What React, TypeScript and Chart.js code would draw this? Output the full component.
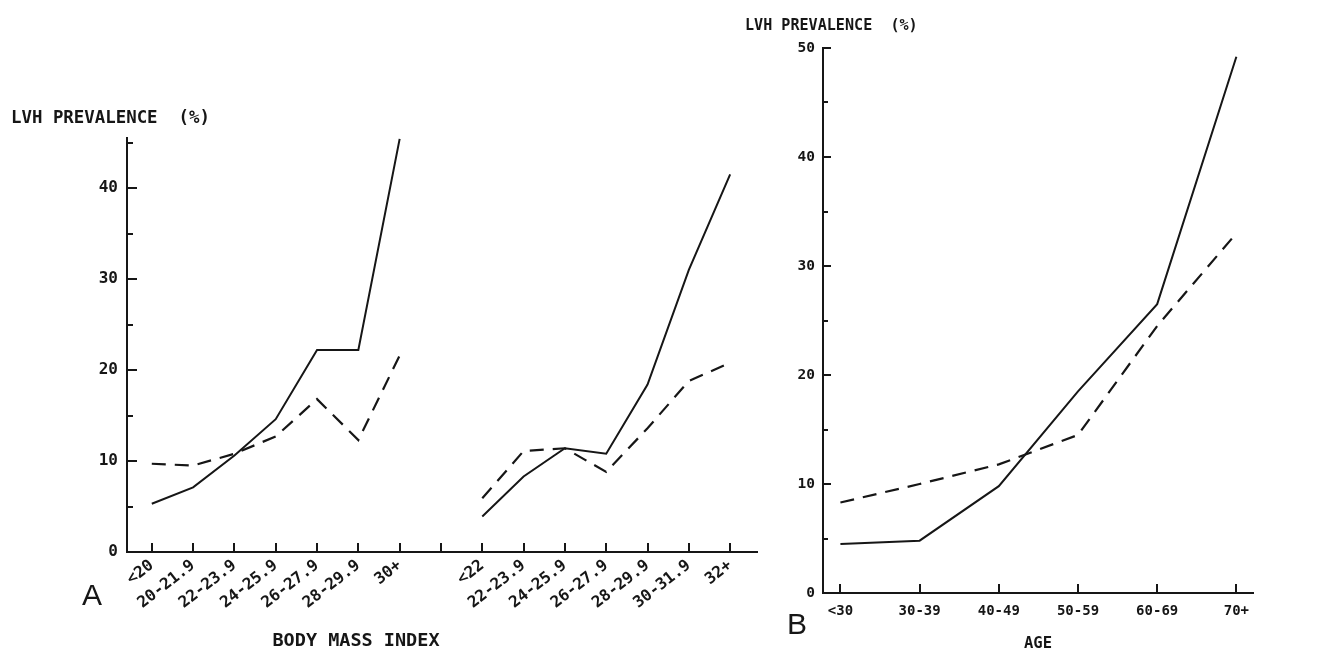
import React, { useEffect, useRef } from 'react';
import { Chart, registerables } from 'chart.js';

Chart.register(...registerables);

const W = 1342;
const H = 653;
const MONO = '"DejaVu Sans Mono", "Liberation Mono", monospace';
const SANS = '"Liberation Sans", Arial, sans-serif';
const INK = '#161616';

// ---- Panel A: body mass index ----
const bmiLabelsLeft = ['<20', '20-21.9', '22-23.9', '24-25.9', '26-27.9', '28-29.9', '30+'];
const bmiLabelsRight = ['<22', '22-23.9', '24-25.9', '26-27.9', '28-29.9', '30-31.9', '32+'];
const bmiSolidLeft = [5.3, 7.1, 10.6, 14.6, 22.2, 22.2, 45.4];
const bmiDashedLeft = [9.7, 9.5, 10.8, 12.7, 16.8, 12.3, 21.6];
const bmiSolidRight = [3.9, 8.3, 11.4, 10.8, 18.4, 31.0, 41.5];
const bmiDashedRight = [5.9, 11.1, 11.4, 8.8, 13.6, 18.8, 20.8];

// ---- Panel B: age ----
const ageLabels = ['<30', '30-39', '40-49', '50-59', '60-69', '70+'];
const ageSolid = [4.5, 4.8, 9.8, 18.5, 26.5, 49.2];
const ageDashed = [8.3, 10.0, 11.8, 14.5, 24.5, 33.0];

const bmiLabels = [...bmiLabelsLeft, '', ...bmiLabelsRight];
const bmiSolid = [...bmiSolidLeft, null, ...bmiSolidRight];
const bmiDashed = [...bmiDashedLeft, null, ...bmiDashedRight];

const toPoints = (vals: (number | null)[]) => vals.map((y, x) => ({ x, y }));

type DecorCfg = {
  id: string;
  nx: number;
  yMajor: number;
  yMinor: number;
  xLen: number;
  title: string;
  titleFont: string;
  titleX: number;
  titleY: number;
  letter: string;
  letterX: number;
  letterY: number;
  xTitle: string;
  xTitleFont: string;
  xTitleX: number;
  xTitleY: number;
};

const decor = (cfg: DecorCfg) => ({
  id: cfg.id,
  afterDraw(chart: any) {
    const ctx = chart.ctx as CanvasRenderingContext2D;
    const xs = chart.scales.x;
    const ys = chart.scales.y;
    const { left, bottom } = chart.chartArea;
    ctx.save();
    ctx.strokeStyle = INK;
    ctx.lineWidth = 2;
    for (let v = 5; v <= ys.max + 1e-9; v += 5) {
      const y = Math.round(ys.getPixelForValue(v));
      const len = v % 10 === 0 ? cfg.yMajor : cfg.yMinor;
      ctx.beginPath();
      ctx.moveTo(left, y);
      ctx.lineTo(left + len, y);
      ctx.stroke();
    }
    for (let i = 0; i < cfg.nx; i++) {
      const x = Math.round(xs.getPixelForValue(i));
      ctx.beginPath();
      ctx.moveTo(x, bottom);
      ctx.lineTo(x, bottom - cfg.xLen);
      ctx.stroke();
    }
    ctx.fillStyle = INK;
    ctx.textBaseline = 'alphabetic';
    ctx.textAlign = 'left';
    ctx.font = cfg.titleFont;
    ctx.fillText(cfg.title, cfg.titleX, cfg.titleY);
    ctx.font = `30px ${SANS}`;
    ctx.fillText(cfg.letter, cfg.letterX, cfg.letterY);
    ctx.textAlign = 'center';
    ctx.font = cfg.xTitleFont;
    ctx.fillText(cfg.xTitle, cfg.xTitleX, cfg.xTitleY);
    ctx.restore();
  },
});

function makeConfig(opts: {
  solid: (number | null)[];
  dashed: (number | null)[];
  labels: string[];
  xMin: number;
  xMax: number;
  yMax: number;
  area: { left: number; right: number; top: number; bottom: number };
  yFont: number;
  xFont: number;
  rotation: number;
  yPad: number;
  xPad: number;
  decorCfg: DecorCfg;
}) {
  const { area } = opts;
  return {
    type: 'line' as const,
    data: {
      datasets: [
        {
          data: toPoints(opts.solid),
          borderColor: INK,
          borderWidth: 2,
          pointRadius: 0,
          tension: 0,
          spanGaps: false,
        },
        {
          data: toPoints(opts.dashed),
          borderColor: INK,
          borderWidth: 2.2,
          borderDash: [14, 9],
          pointRadius: 0,
          tension: 0,
          spanGaps: false,
        },
      ],
    },
    options: {
      responsive: false,
      animation: false as const,
      devicePixelRatio: 1,
      events: [],
      layout: { padding: { left: 0, top: area.top, right: W - area.right, bottom: 0 } },
      plugins: { legend: { display: false }, tooltip: { enabled: false }, title: { display: false } },
      scales: {
        x: {
          type: 'linear' as const,
          min: opts.xMin,
          max: opts.xMax,
          afterFit: (s: any) => {
            s.height = H - area.bottom;
          },
          grid: { display: false, drawTicks: false },
          border: { display: true, color: INK, width: 2 },
          ticks: {
            stepSize: 1,
            autoSkip: false,
            includeBounds: false,
            minRotation: opts.rotation,
            maxRotation: opts.rotation,
            padding: opts.xPad,
            color: INK,
            font: { family: MONO, size: opts.xFont, weight: 'bold' as const },
            callback: (v: any) => (Number.isInteger(v) ? opts.labels[v] ?? '' : ''),
          },
        },
        y: {
          type: 'linear' as const,
          min: 0,
          max: opts.yMax,
          afterFit: (s: any) => {
            s.width = area.left;
          },
          grid: { display: false, drawTicks: false },
          border: { display: true, color: INK, width: 2 },
          ticks: {
            stepSize: 10,
            includeBounds: false,
            padding: opts.yPad,
            color: INK,
            font: { family: MONO, size: opts.yFont, weight: 'bold' as const },
            callback: (v: any) => (v % 10 === 0 ? String(v) : ''),
          },
        },
      },
    },
    plugins: [decor(opts.decorCfg)],
  };
}

export default function App() {
  const refA = useRef<HTMLCanvasElement | null>(null);
  const refB = useRef<HTMLCanvasElement | null>(null);

  useEffect(() => {
    const chartA = new Chart(
      refA.current as HTMLCanvasElement,
      makeConfig({
        solid: bmiSolid,
        dashed: bmiDashed,
        labels: bmiLabels,
        xMin: -0.6,
        xMax: 14.65,
        yMax: 45.5,
        area: { left: 127, right: 757, top: 138, bottom: 552 },
        yFont: 16,
        xFont: 16,
        rotation: 38,
        yPad: 9,
        xPad: 4,
        decorCfg: {
          id: 'decorA',
          nx: 15,
          yMajor: 10,
          yMinor: 6,
          xLen: 9,
          title: 'LVH PREVALENCE  (%)',
          titleFont: `bold 17.4px ${MONO}`,
          titleX: 11,
          titleY: 123,
          letter: 'A',
          letterX: 82,
          letterY: 605,
          xTitle: 'BODY MASS INDEX',
          xTitleFont: `bold 18.5px ${MONO}`,
          xTitleX: 356,
          xTitleY: 646,
        },
      }) as any
    );
    const chartB = new Chart(
      refB.current as HTMLCanvasElement,
      makeConfig({
        solid: ageSolid,
        dashed: ageDashed,
        labels: ageLabels,
        xMin: -0.22,
        xMax: 5.21,
        yMax: 50,
        area: { left: 823, right: 1253, top: 48, bottom: 593 },
        yFont: 14.5,
        xFont: 14,
        rotation: 0,
        yPad: 8,
        xPad: 10,
        decorCfg: {
          id: 'decorB',
          nx: 6,
          yMajor: 8,
          yMinor: 5,
          xLen: 9,
          title: 'LVH PREVALENCE  (%)',
          titleFont: `bold 15.1px ${MONO}`,
          titleX: 745,
          titleY: 30,
          letter: 'B',
          letterX: 787,
          letterY: 634,
          xTitle: 'AGE',
          xTitleFont: `bold 15.5px ${MONO}`,
          xTitleX: 1038,
          xTitleY: 648,
        },
      }) as any
    );
    return () => {
      chartA.destroy();
      chartB.destroy();
    };
  }, []);

  const canvasStyle: React.CSSProperties = { position: 'absolute', left: 0, top: 0, width: W, height: H };
  return (
    <div style={{ position: 'fixed', left: 0, top: 0, width: W, height: H, background: '#fff' }}>
      <canvas ref={refA} width={W} height={H} style={canvasStyle} />
      <canvas ref={refB} width={W} height={H} style={canvasStyle} />
    </div>
  );
}
